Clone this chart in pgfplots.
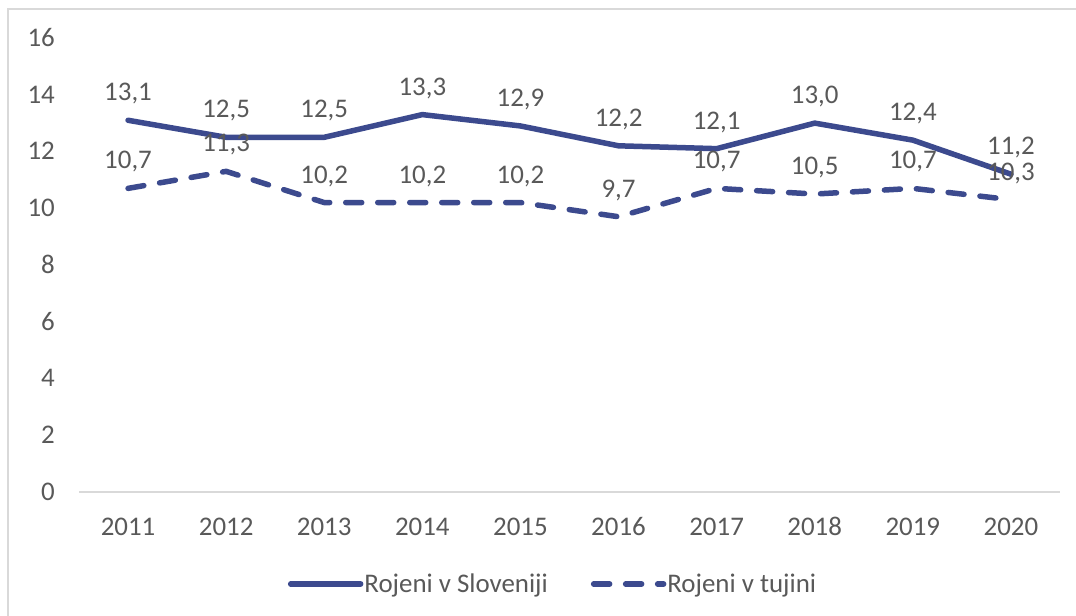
\documentclass[border=0pt]{standalone}
\usepackage{pgfplots}
\pgfplotsset{compat=1.18}
\usepackage{fontspec}
\setmainfont{Carlito}
\definecolor{lineblue}{HTML}{3C4A8E}
\definecolor{txtgray}{HTML}{595959}
\definecolor{framegray}{HTML}{D9D9D9}
\begin{document}
\begin{tikzpicture}[x=1bp,y=1bp]
\useasboundingbox (0,0) rectangle (1076,616);
\fill[white] (0,0) rectangle (1076,616);
\draw[framegray, line width=2.5bp] (8,-5) -- (8,607) -- (1090,607);
\begin{axis}[
  at={(79bp,124bp)}, anchor=south west,
  scale only axis, width=981bp, height=454bp,
  xmin=2010.5, xmax=2020.5, ymin=0, ymax=16,
  xtick={2011,...,2020}, ytick={0,2,...,16},
  axis line style={draw=none},
  major tick length=0pt,
  clip=false,
  font=\fontsize{27}{32}\selectfont,
  /pgf/number format/assume math mode=true,
  xticklabel style={/pgf/number format/1000 sep={}, anchor=base, inner sep=0pt, yshift=-43.5bp, text=txtgray},
  yticklabel style={anchor=base east, inner sep=0pt, xshift=-24bp, yshift=-8.5bp, text=txtgray},
  nodes near coords,
  every node near coord/.append style={/pgf/number format/use comma, /pgf/number format/fixed, /pgf/number format/fixed zerofill, /pgf/number format/precision=1, /pgf/number format/assume math mode=true, anchor=base, inner sep=0pt, yshift=19.5bp, text=txtgray, font=\fontsize{27}{32}\selectfont},
  legend columns=-1,
  legend style={at={(0.4827,-0.2026)}, anchor=center, draw=none, fill=none, inner sep=0pt,
    font=\fontsize{27}{32}\selectfont, text=txtgray,
    nodes={inner sep=1bp},
    /tikz/every even column/.append style={column sep=42bp}},
  legend image code/.code={\draw[#1] (0,0) -- (70bp,0);},
]
\draw[framegray, line width=2bp] (axis cs:2010.5,0) -- (axis cs:2020.5,0);
\addplot[lineblue, line width=5.5bp, line join=round, line cap=round] coordinates {
(2011,13.1) (2012,12.5) (2013,12.5) (2014,13.3) (2015,12.9) (2016,12.2) (2017,12.1) (2018,13.0) (2019,12.4) (2020,11.2)};
\addlegendentry{Rojeni v Sloveniji}
\addplot[lineblue, line width=5.5bp, line join=round, line cap=round, dash pattern=on 16bp off 16bp] coordinates {
(2011,10.7) (2012,11.3) (2013,10.2) (2014,10.2) (2015,10.2) (2016,9.7) (2017,10.7) (2018,10.5) (2019,10.7) (2020,10.3)};
\addlegendentry{Rojeni v tujini}
\end{axis}
\end{tikzpicture}
\end{document}
